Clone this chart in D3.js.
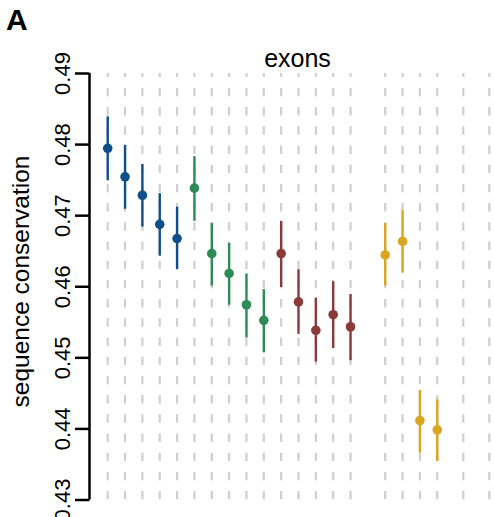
<!DOCTYPE html>
<html>
<head>
<meta charset="utf-8">
<script src="https://cdn.jsdelivr.net/npm/d3@7"></script>
<style>
  html, body { margin: 0; padding: 0; background: #fff; }
  svg { display: block; font-family: "Liberation Sans", Arial, Helvetica, sans-serif; }
</style>
</head>
<body>
<svg id="chart" width="494" height="517"></svg>
<script>
// ---- data ----
const panelLabel = "A";
const title = "exons";
const yLabel = "sequence conservation";
const yTicks = [0.43, 0.44, 0.45, 0.46, 0.47, 0.48, 0.49];
const yTickLabels = ["0.43", "0.44", "0.45", "0.46", "0.47", "0.48", "0.49"];
const groups = ["blue", "green", "red", "yellow"];
const groupColors = ["#104E8B", "#2E8B57", "#8B3A3A", "#DAA520"];
// slot of each dashed guide line
const gridSlots = [1, 2, 3, 4, 5, 6, 7, 8, 9, 10, 11, 12, 13, 14, 15, 17, 18, 19, 20, 21.5, 23];
// points
const pointSlots = [1, 2, 3, 4, 5, 6, 7, 8, 9, 10, 11, 12, 13, 14, 15, 17, 18, 19, 20];
const pointGroup = [0, 0, 0, 0, 0, 1, 1, 1, 1, 1, 2, 2, 2, 2, 2, 3, 3, 3, 3];
const means = [0.4794, 0.4754, 0.4728, 0.4687, 0.4667, 0.4738, 0.4646, 0.4618, 0.4574, 0.4552,
               0.4646, 0.4578, 0.4538, 0.4560, 0.4543, 0.4644, 0.4663, 0.4411, 0.4398];
const lowers = [0.4749, 0.4709, 0.4684, 0.4643, 0.4624, 0.4692, 0.4601, 0.4574, 0.4528, 0.4507,
                0.4599, 0.4533, 0.4494, 0.4513, 0.4496, 0.4601, 0.4619, 0.4366, 0.4354];
const uppers = [0.4839, 0.4799, 0.4772, 0.4731, 0.4712, 0.4783, 0.4689, 0.4661, 0.4618, 0.4596,
                0.4692, 0.4624, 0.4584, 0.4607, 0.4589, 0.4689, 0.4707, 0.4454, 0.4441];

// ---- layout ----
const svg = d3.select("#chart");
const plotTop = 73, plotBottom = 499.5, axisX = 89.5;
const x = d3.scaleLinear().domain([1, 23]).range([107.7, 489.3]);
const y = d3.scaleLinear().domain([0.43, 0.49]).range([plotBottom, plotTop]);

// clip for guide lines
svg.append("defs").append("clipPath").attr("id", "plotclip")
  .append("rect").attr("x", axisX).attr("y", plotTop).attr("width", 494 - axisX).attr("height", plotBottom - plotTop);

// dashed guide lines (drawn from bottom upward)
svg.append("g").attr("clip-path", "url(#plotclip)")
  .selectAll("line").data(gridSlots).join("line")
  .attr("x1", d => x(d)).attr("x2", d => x(d))
  .attr("y1", plotBottom).attr("y2", plotTop - 20)
  .attr("stroke", "#cfcfcf")
  .attr("stroke-width", 2.2)
  .attr("stroke-dasharray", "8.4 10.8");

// y axis
const axis = d3.axisLeft(y).tickValues(yTicks)
  .tickFormat((d, i) => yTickLabels[i]).tickSize(14.5).tickPadding(5);
const gAxis = svg.append("g").attr("transform", `translate(${axisX},0)`).call(axis);
gAxis.select(".domain").attr("d", `M0,${plotBottom}V${plotTop}`)
  .attr("stroke", "#000").attr("stroke-width", 2.5).attr("fill", "none");
gAxis.selectAll(".tick line").attr("stroke", "#000").attr("stroke-width", 2.5);
gAxis.selectAll(".tick text")
  .attr("fill", "#000")
  .style("font-size", "22px")
  .attr("text-anchor", "middle")
  .attr("dy", null)
  .attr("x", null)
  .attr("transform", "translate(-19.5,0) rotate(-90)");

// error bars
const pts = pointSlots.map((s, i) => ({ s, g: pointGroup[i], m: means[i], lo: lowers[i], hi: uppers[i] }));
svg.append("g").selectAll("line").data(pts).join("line")
  .attr("x1", d => x(d.s)).attr("x2", d => x(d.s))
  .attr("y1", d => y(d.lo)).attr("y2", d => y(d.hi))
  .attr("stroke", d => groupColors[d.g])
  .attr("stroke-width", 2.4);
svg.append("g").selectAll("circle").data(pts).join("circle")
  .attr("cx", d => x(d.s)).attr("cy", d => y(d.m))
  .attr("r", 4.8)
  .attr("fill", d => groupColors[d.g]);

// title
svg.append("text").attr("x", 297.5).attr("y", 66.5)
  .attr("text-anchor", "middle").style("font-size", "25px").attr("fill", "#000")
  .text(title);

// y label
svg.append("text")
  .attr("transform", `translate(29,281.5) rotate(-90)`)
  .attr("text-anchor", "middle").style("font-size", "24.5px").attr("fill", "#000")
  .text(yLabel);

// panel label
svg.append("text").attr("x", 6).attr("y", 30)
  .style("font-size", "30px").style("font-weight", "bold").attr("fill", "#000")
  .text(panelLabel);
</script>
</body>
</html>
